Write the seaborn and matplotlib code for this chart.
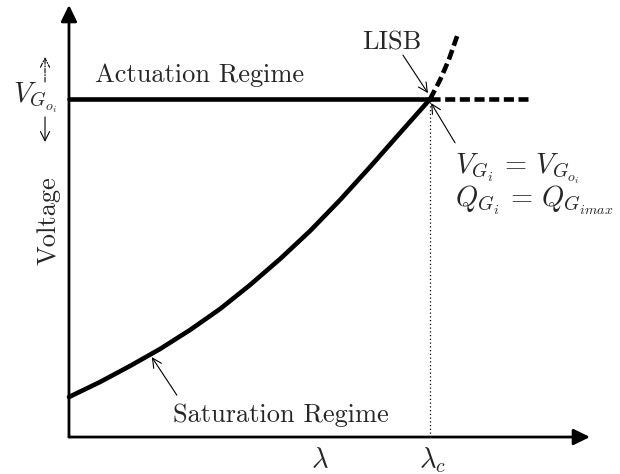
import numpy as np
import pandas as pd
import matplotlib
matplotlib.use("Agg")
import matplotlib.pyplot as plt
import seaborn as sns

# ── data (schematic) ──
sat_x = [0.00, 0.595, 1.171, 1.747, 2.322, 2.898, 3.474, 4.050, 4.626,
         5.202, 5.777, 6.353, 6.93]
sat_y = [0.926, 1.273, 1.644, 2.037, 2.477, 2.963, 3.519, 4.120, 4.769,
         5.486, 6.250, 7.037, 7.82]
ext_x = [6.93, 7.12, 7.29, 7.47]
ext_y = [7.82, 8.26, 8.73, 9.35]
v_go = 7.82
lam_c = 6.93
lam = 4.82
act_x = [0.0, lam_c]
act_dash_x = [lam_c, 8.81]

sns.set_theme(style="white")
plt.rcParams["font.family"] = ["cmr10", "DejaVu Serif"]
plt.rcParams["mathtext.fontset"] = "cm"
plt.rcParams["axes.formatter.use_mathtext"] = True

fig = plt.figure(figsize=(6.2, 4.74), dpi=100)
ax = fig.add_axes([0, 0, 1, 1])
ax.set_xlim(-1.324, 10.576)
ax.set_ylim(-0.856, 10.116)
ax.axis("off")

FS = 19
MFS = 20.5
LW = 3.3

# axes with arrow heads
head = dict(arrowstyle="-|>,head_length=0.45,head_width=0.22",
            mutation_scale=22, lw=2.0, color="black", shrinkA=0, shrinkB=0)
ax.annotate("", xy=(10.0, 0), xytext=(0, 0), arrowprops=head)
ax.annotate("", xy=(0, 10.0), xytext=(0, 0), arrowprops=head)

# curves
sat = pd.DataFrame({"x": sat_x, "y": sat_y})
sns.lineplot(data=sat, x="x", y="y", sort=False, estimator=None,
             color="black", lw=LW, ax=ax)
ax.lines[-1].set_solid_joinstyle("round")
ext = pd.DataFrame({"x": ext_x, "y": ext_y})
sns.lineplot(data=ext, x="x", y="y", sort=False, estimator=None,
             color="black", lw=LW, ax=ax)
ax.lines[-1].set_dashes((2.2, 1.0))
sns.lineplot(x=act_x, y=[v_go, v_go], color="black", lw=LW, ax=ax)
sns.lineplot(x=act_dash_x, y=[v_go, v_go], color="black", lw=LW, ax=ax)
ax.lines[-1].set_dashes((2.2, 1.0))
ax.plot([lam_c, lam_c], [0, v_go], color="black", lw=0.9, dashes=(1, 2))

# labels
ax.text(0.50, 8.22, "Actuation Regime", fontsize=FS, va="baseline", ha="left")
ax.text(2.0, 0.35, "Saturation Regime", fontsize=FS, va="baseline", ha="left")
ax.text(6.20, 9.12, "LISB", fontsize=FS, va="center", ha="center")
ax.text(-0.40, 5.02, "Voltage", fontsize=FS, rotation=90, va="center", ha="center")
ax.text(-1.07, 7.74, r"$V_{G_{o_i}}$", fontsize=MFS, va="baseline", ha="left")
ax.text(7.41, 6.11, r"$V_{G_i}\,=\,V_{G_{o_i}}$", fontsize=MFS, va="baseline", ha="left")
ax.text(7.41, 5.32, r"$Q_{G_i}\,=\,Q_{G_{i max}}$", fontsize=MFS, va="baseline", ha="left")
ax.text(lam, -0.72, r"$\lambda$", fontsize=MFS, va="baseline", ha="center")
ax.text(lam_c + 0.04, -0.72, r"$\lambda_c$", fontsize=MFS, va="baseline", ha="center")

thin = dict(arrowstyle="->,head_length=0.6,head_width=0.3", mutation_scale=11,
            lw=0.8, color="black", shrinkA=0, shrinkB=0)
ax.annotate("", xy=(6.89, 7.96), xytext=(6.41, 8.84), arrowprops=thin)
ax.annotate("", xy=(6.95, 7.73), xytext=(7.41, 6.81), arrowprops=thin)
ax.annotate("", xy=(1.59, 1.85), xytext=(2.07, 0.97), arrowprops=thin)
ax.annotate("", xy=(-0.46, 8.80), xytext=(-0.46, 8.22),
            arrowprops=dict(thin, linestyle=(0, (4, 1.5, 1, 1.5))))
ax.annotate("", xy=(-0.46, 6.83), xytext=(-0.46, 7.41), arrowprops=thin)

fig.savefig("out.png", dpi=100)
